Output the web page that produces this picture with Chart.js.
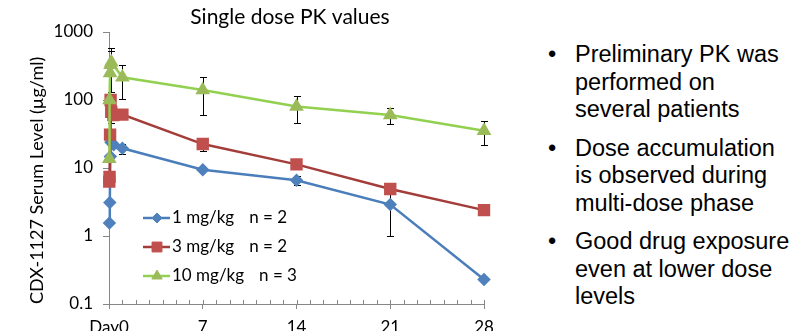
<!DOCTYPE html>
<html>
<head>
<meta charset="utf-8">
<script src="https://cdn.jsdelivr.net/npm/chart.js@4.4.0/dist/chart.umd.min.js"></script>
<style>
  html, body { margin: 0; padding: 0; background: #fff; width: 789px; height: 331px; overflow: hidden; }
  #grafico { position: absolute; left: 0; top: 0; }
  #notas {
    position: absolute; left: 575px; top: 41px;
    font-family: "Liberation Sans", Arial, sans-serif; font-size: 23.5px; line-height: 27.5px;
    color: #000; white-space: nowrap;
  }
  #notas p { margin: 0 0 11px 0; position: relative; }
  #notas p::before { content: "\2022"; position: absolute; left: -27px; }
</style>
</head>
<body>
<canvas id="grafico" width="520" height="345"></canvas>
<div id="notas">
  <p>Preliminary PK was<br>performed on<br>several patients</p>
  <p>Dose accumulation<br>is observed during<br>multi-dose phase</p>
  <p>Good drug exposure<br>even at lower dose<br>levels</p>
</div>
<script>
// PK chart - single dose

const tituloGrafico = "Single dose PK values";
const tituloEixoY = "CDX-1127 Serum Level (µg/ml)";

const diasTicks = [0, 7, 14, 21, 28];
const diasLabels = ["Day0", "7", "14", "21", "28"];
const nivelTicks = [0.1, 1, 10, 100, 1000];

const doses = ["1 mg/kg", "3 mg/kg", "10 mg/kg"];
const pacientes = ["n = 2", "n = 2", "n = 3"];

// 1 mg/kg
const dias1 = [0.03, 0.06, 0.1, 0.15, 0.35, 1, 7, 14, 21, 28];
const nivel1 = [1.55, 3.1, 14.7, 24, 22, 19.5, 9.4, 6.6, 2.9, 0.23];
const erro1 = [0, 0, 0, 0, 0, 3.2, 0, 0.9, 1.9, 0];

// 3 mg/kg
const dias3 = [0.02, 0.04, 0.08, 0.12, 0.17, 0.33, 1, 7, 14, 21, 28];
const nivel3 = [6.3, 7.4, 31, 100, 67, 60, 61, 22.5, 11.3, 4.9, 2.4];
const erro3 = [0, 0, 0, 0, 21, 0, 0, 5, 0, 0, 0];

// 10 mg/kg
const dias10 = [0.02, 0.04, 0.08, 0.12, 0.17, 1, 7, 14, 21, 28];
const nivel10 = [13.7, 100, 250, 330, 360, 216, 140, 80, 60, 35.4];
const erro10 = [0, 0, 0, 200, 230, 112, 80, 34, 15, 13.5];

const pontos = (dias, niveis) => dias.map((d, i) => ({ x: d, y: niveis[i] }));

const fonte = "Lato, 'Open Sans', sans-serif";
const corEixo = "#878787";

// barras de erro (antes dos marcadores)
const barrasErro = {
  id: "barrasErro",
  beforeDatasetsDraw(chart) {
    const { ctx } = chart;
    const x = chart.scales.x;
    const y = chart.scales.y;
    ctx.save();
    ctx.strokeStyle = "#000";
    ctx.lineWidth = 1;
    chart.data.datasets.forEach((ds) => {
      ds.data.forEach((p, i) => {
        const e = ds.erros[i];
        if (!e) return;
        const px = Math.round(x.getPixelForValue(p.x)) + 0.5;
        const topo = Math.round(y.getPixelForValue(p.y + e)) + 0.5;
        const base = Math.round(y.getPixelForValue(Math.max(p.y - e, 0.1))) + 0.5;
        ctx.beginPath();
        ctx.moveTo(px, topo);
        ctx.lineTo(px, base);
        ctx.moveTo(px - 3.5, topo);
        ctx.lineTo(px + 3.5, topo);
        ctx.moveTo(px - 3.5, base);
        ctx.lineTo(px + 3.5, base);
        ctx.stroke();
      });
    });
    ctx.restore();
  },
};

// ticks menores no eixo x + titulo + legenda
const extras = {
  id: "extras",
  afterDraw(chart) {
    const { ctx, chartArea } = chart;
    const x = chart.scales.x;
    ctx.save();

    ctx.strokeStyle = corEixo;
    ctx.lineWidth = 1;
    ctx.beginPath();
    for (let d = 0; d <= 28; d++) {
      const px = Math.round(x.getPixelForValue(d)) + 0.5;
      ctx.moveTo(px, chartArea.bottom - 4);
      ctx.lineTo(px, chartArea.bottom);
    }
    ctx.stroke();

    ctx.fillStyle = "#000";
    ctx.font = "21px " + fonte;
    ctx.textAlign = "center";
    ctx.textBaseline = "middle";
    ctx.fillText(tituloGrafico, 290, 17);

    ctx.font = "17px " + fonte;
    ctx.textAlign = "left";
    const linhasY = [218, 247, 276];
    chart.data.datasets.forEach((ds, i) => {
      const ly = linhasY[i];
      ctx.strokeStyle = ds.borderColor;
      ctx.lineWidth = ds.borderWidth;
      ctx.beginPath();
      ctx.moveTo(143, ly);
      ctx.lineTo(170, ly);
      ctx.stroke();
      ctx.fillStyle = ds.pointBackgroundColor;
      ctx.strokeStyle = ds.pointBorderColor;
      ctx.lineWidth = 1;
      Chart.helpers.drawPoint(ctx, { pointStyle: ds.pointStyle, radius: ds.pointRadius, rotation: 0, borderWidth: 1 }, 157, ly);
      ctx.fillStyle = "#000";
      ctx.fillText(doses[i], 172, ly);
      const w = ctx.measureText(doses[i]).width;
      ctx.fillText(pacientes[i], 172 + w + 15, ly);
    });

    ctx.restore();
  },
};

const ctxGrafico = document.getElementById("grafico");

new Chart(ctxGrafico, {
  type: "line",
  data: {
    datasets: [
      {
        label: doses[0],
        data: pontos(dias1, nivel1),
        erros: erro1,
        borderColor: "#4A7EBB",
        borderWidth: 2.5,
        pointStyle: "rectRot",
        pointRadius: 5,
        pointBackgroundColor: "#4F81BD",
        pointBorderColor: "#4F81BD",
        clip: false,
        order: 2,
      },
      {
        label: doses[1],
        data: pontos(dias3, nivel3),
        erros: erro3,
        borderColor: "#A33D3A",
        borderWidth: 2.5,
        pointStyle: "rect",
        pointRadius: 7,
        pointBackgroundColor: "#C0504D",
        pointBorderColor: "#C0504D",
        clip: false,
        order: 1,
      },
      {
        label: doses[2],
        data: pontos(dias10, nivel10),
        erros: erro10,
        borderColor: "#92D050",
        borderWidth: 2.5,
        pointStyle: "triangle",
        pointRadius: 6,
        pointBackgroundColor: "#9BBB59",
        pointBorderColor: "#9BBB59",
        clip: false,
        order: 0,
      },
    ],
  },
  options: {
    responsive: false,
    animation: false,
    layout: { padding: { top: 32, right: 36, left: 0, bottom: 0 } },
    plugins: {
      legend: { display: false },
      tooltip: { enabled: false },
    },
    scales: {
      x: {
        type: "linear",
        min: 0,
        max: 28,
        afterBuildTicks: (s) => { s.ticks = diasTicks.map((v) => ({ value: v })); },
        afterFit: (s) => { s.height = 41; },
        ticks: {
          callback: (v) => diasLabels[diasTicks.indexOf(v)],
          color: "#000",
          font: { family: fonte, size: 17 },
          padding: 8,
          maxRotation: 0,
          autoSkip: false,
        },
        grid: { drawOnChartArea: false, tickLength: 5, color: corEixo },
        border: { color: corEixo },
      },
      y: {
        type: "logarithmic",
        min: 0.1,
        max: 1000,
        afterBuildTicks: (s) => { s.ticks = nivelTicks.map((v) => ({ value: v })); },
        afterFit: (s) => { s.width = 109; },
        ticks: {
          callback: (v) => String(v),
          color: "#000",
          font: { family: fonte, size: 17 },
          padding: 10,
        },
        grid: { drawOnChartArea: false, tickLength: 6, color: corEixo },
        border: { color: corEixo },
        title: {
          display: true,
          text: tituloEixoY,
          align: "start",
          color: "#000",
          font: { family: fonte, size: 18 },
          padding: { top: 26, bottom: 0 },
        },
      },
    },
  },
  plugins: [barrasErro, extras],
});
</script>
</body>
</html>
